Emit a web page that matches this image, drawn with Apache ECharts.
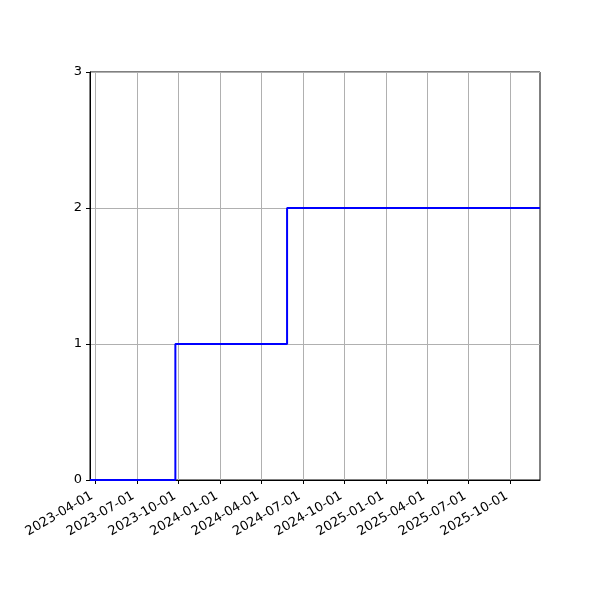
<!DOCTYPE html>
<html>
<head>
<meta charset="utf-8">
<script src="https://cdn.jsdelivr.net/npm/echarts@6/dist/echarts.min.js"></script>
<style>html,body{margin:0;padding:0;background:#fff}#c{width:600px;height:600px}</style>
</head>
<body>
<div id="c"></div>
<script>
const stepDates = ['2023-03-20', '2023-09-24', '2024-05-27', '2025-12-05'];
const stepValues = [0, 1, 2, 2];
const xTickLabels = ['2023-04-01','2023-07-01','2023-10-01','2024-01-01','2024-04-01','2024-07-01','2024-10-01','2025-01-01','2025-04-01','2025-07-01','2025-10-01'];
const xMin = '2023-03-20';
const xMax = '2025-12-05';
const yTicks = [0, 1, 2, 3];

const ts = s => new Date(s + 'T00:00:00Z').getTime();
const tickTs = xTickLabels.map(ts);
const chart = echarts.init(document.getElementById('c'), null, {renderer: 'canvas'});
const font = 'DejaVu Sans';
chart.setOption({
  animation: false,
  grid: {left: 90, right: 60, top: 72, bottom: 120, show: true, borderColor: '#000', borderWidth: 1, backgroundColor: 'transparent'},
  xAxis: {
    type: 'value',
    min: ts(xMin),
    max: ts(xMax),
    axisLine: {show: true, onZero: false, lineStyle: {color: '#000', width: 1}},
    axisTick: {show: true, length: 4, inside: false, customValues: tickTs, lineStyle: {color: '#000'}},
    splitLine: {show: false},
    axisLabel: {
      customValues: tickTs,
      rotate: 30,
      color: '#000',
      fontFamily: font,
      fontSize: 13,
      margin: 13,
      padding: [0, 4, 0, 0],
      hideOverlap: false,
      formatter: v => { const d = new Date(v); return d.getUTCFullYear() + '-' + String(d.getUTCMonth()+1).padStart(2,'0') + '-' + String(d.getUTCDate()).padStart(2,'0'); }
    }
  },
  yAxis: {
    type: 'value',
    min: yTicks[0],
    max: yTicks[yTicks.length - 1],
    interval: 1,
    axisLine: {show: true, lineStyle: {color: '#000', width: 1}},
    axisTick: {show: true, length: 4, lineStyle: {color: '#000'}},
    splitLine: {show: true, lineStyle: {color: '#b0b0b0', width: 1}},
    axisLabel: {color: '#000', fontFamily: font, fontSize: 13, margin: 8}
  },
  series: [{
    type: 'line',
    step: 'end',
    showSymbol: false,
    symbol: 'none',
    z: 3,
    lineStyle: {color: '#0000ff', width: 2},
    data: stepDates.map((d, i) => [ts(d), stepValues[i]]),
    markLine: {
      silent: true,
      symbol: 'none',
      label: {show: false},
      z: 1,
      lineStyle: {color: '#b0b0b0', width: 1, type: 'solid'},
      data: tickTs.map(t => ({xAxis: t}))
    }
  }]
});
</script>
</body>
</html>
